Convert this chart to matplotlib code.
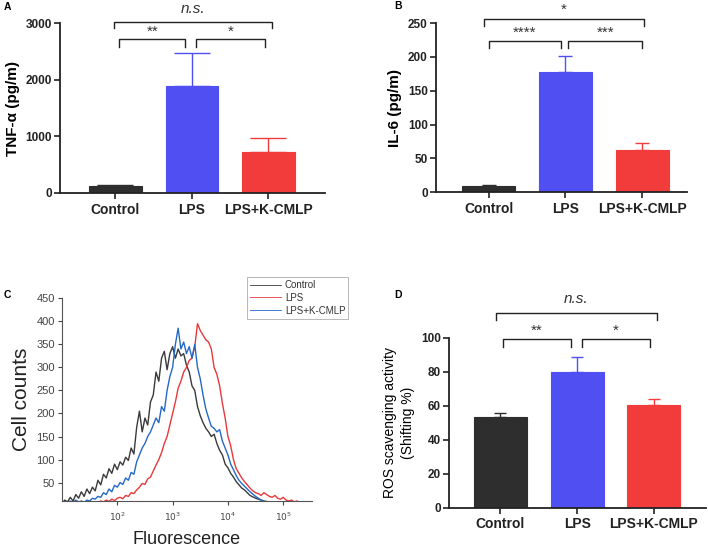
import numpy as np
import matplotlib
matplotlib.use("Agg")
import matplotlib.pyplot as plt

plt.rcParams['font.family'] = ['Liberation Sans', 'DejaVu Sans']

# ---------------- data ----------------
groups = ["Control", "LPS", "LPS+K-CMLP"]
bar_colors = ["#2e2e2e", "#5050f2", "#f23c3c"]

tnf_mean = [125, 1890, 715]
tnf_err = [15, 580, 250]

il6_mean = [9.5, 178, 62]
il6_err = [1.0, 24, 11]

ros_mean = [53.5, 80, 60.2]
ros_err = [2.5, 8.8, 4.0]

# flow-cytometry histogram (log10 fluorescence bins, counts)
log_bins = np.round(np.arange(1.0, 5.401, 0.05), 2)
control_counts = [5, 12, 8, 18, 10, 24, 16, 30, 20, 36, 26, 40, 32, 55, 45, 68, 60, 80, 70, 90,
                  78, 95, 88, 105, 98, 125, 112, 170, 205, 160, 190, 175, 225, 240, 290, 270, 320, 335, 295, 330,
                  345, 320, 340, 325, 330, 305, 290, 260, 250, 215, 195, 180, 168, 160, 150, 155, 135, 120, 110, 90,
                  82, 70, 62, 52, 45, 38, 34, 28, 22, 19, 16, 14, 12, 10, 9, 8, 7, 6, 6, 5,
                  5, 5, 4, 4, 4, 4, 4, 4, 4]
lps_counts = [4, 6, 5, 7, 4, 8, 5, 6, 4, 7, 5, 8, 6, 6, 10, 8, 12, 9, 14, 11,
              16, 18, 15, 22, 20, 28, 26, 34, 40, 48, 46, 58, 62, 75, 88, 100, 115, 135, 150, 175,
              200, 225, 255, 270, 290, 300, 315, 320, 345, 395, 380, 370, 360, 355, 340, 300, 285, 260, 222, 190,
              150, 130, 100, 80, 70, 60, 52, 45, 38, 32, 28, 26, 22, 28, 24, 20, 18, 22, 16, 14,
              18, 12, 10, 12, 8, 10, 7, 6, 5]
lpsk_counts = [4, 8, 5, 10, 6, 12, 8, 10, 7, 12, 10, 16, 14, 20, 18, 28, 24, 36, 30, 44,
               40, 50, 46, 60, 55, 72, 68, 95, 110, 125, 135, 150, 160, 175, 190, 180, 215, 205, 250, 280,
               300, 350, 385, 340, 355, 330, 345, 320, 350, 300, 275, 240, 210, 190, 172, 168, 160, 165, 140, 125,
               110, 90, 78, 65, 55, 48, 42, 36, 30, 25, 20, 16, 12, 9, 7, 5, 4, 4, 4, 4,
               4, 4, 4, 4, 4, 4, 4, 4, 4]
hist_labels = ["Control", "LPS", "LPS+K-CMLP"]
hist_colors = ["#3a3a3a", "#e8383a", "#2468c8"]

fig = plt.figure(figsize=(7.08, 5.47), dpi=100)
W, H = 708, 547


def ax_px(l, t, r, b):
    return fig.add_axes([l / W, 1 - b / H, (r - l) / W, (b - t) / H])


def style_bar_axes(ax):
    for s in ["top", "right"]:
        ax.spines[s].set_visible(False)
    for s in ["left", "bottom"]:
        ax.spines[s].set_linewidth(1.3)
        ax.spines[s].set_color("#222222")
    ax.tick_params(axis="y", length=4, width=1.2, labelsize=8.5, pad=2, colors="#222222")
    ax.tick_params(axis="x", length=4, width=1.2, labelsize=10, pad=3, colors="#222222")
    for lab in ax.get_xticklabels() + ax.get_yticklabels():
        lab.set_fontweight("bold")


def bars(ax, means, errs, capsize):
    x = np.arange(len(groups))
    for i in range(len(groups)):
        ax.bar(x[i], means[i], width=0.69, color=bar_colors[i], edgecolor=bar_colors[i], lw=0.8, zorder=2)
        ax.errorbar(x[i], means[i], yerr=[[0], [errs[i]]], color=bar_colors[i], lw=1.0,
                    capsize=capsize, capthick=1.0, zorder=3)
    ax.set_xticks(x)
    ax.set_xticklabels(groups)


def bracket(ax, x0, x1, y, h, text, ty, fs=11, style="normal"):
    ax.plot([x0, x0, x1, x1], [y - h, y, y, y - h], color="#222222", lw=1.0, clip_on=False)
    ax.text((x0 + x1) / 2, ty, text, ha="center", va="center", fontsize=fs, color="#333333",
            style=style, clip_on=False)


# ---------------- A ----------------
axA = ax_px(60, 23, 325, 193)
bars(axA, tnf_mean, tnf_err, 13)
axA.set_xlim(-0.725, 2.74)
axA.set_ylim(0, 3000)
axA.set_yticks([0, 1000, 2000, 3000])
axA.set_ylabel("TNF-α (pg/m)", fontsize=11, fontweight="bold", labelpad=4)
style_bar_axes(axA)
bracket(axA, 0.05, 0.91, 2717, 137, "**", 2840)
bracket(axA, 1.05, 1.96, 2717, 137, "*", 2840)
bracket(axA, -0.02, 2.05, 3023, 117, "n.s.", 3240, fs=11, style="italic")
fig.text(4 / W, 1 - 7 / H, "A", fontsize=7.5, fontweight="bold", va="center")

# ---------------- B ----------------
axB = ax_px(436, 23, 687, 192.3)
bars(axB, il6_mean, il6_err, 5)
axB.set_xlim(-0.684, 2.586)
axB.set_ylim(0, 250)
axB.set_yticks([0, 50, 100, 150, 200, 250])
axB.set_ylabel("IL-6 (pg/m)", fontsize=11, fontweight="bold", labelpad=4)
style_bar_axes(axB)
bracket(axB, 0.0, 0.95, 224, 10.5, "****", 235)
bracket(axB, 1.04, 2.0, 224, 10.5, "***", 235)
bracket(axB, -0.06, 2.03, 256, 10.5, "*", 269)
fig.text(394 / W, 1 - 6 / H, "B", fontsize=7.5, fontweight="bold", va="center")

# ---------------- C ----------------
axC = ax_px(62, 298.3, 312, 501)
for counts, lab, col in zip([control_counts, lps_counts, lpsk_counts], hist_labels, hist_colors):
    axC.plot(10 ** log_bins, counts, color=col, lw=1.0, label=lab)
axC.set_xscale("log")
axC.set_xlim(10 ** 1.0, 10 ** 5.52)
axC.set_ylim(10, 450)
axC.set_yticks([50, 100, 150, 200, 250, 300, 350, 400, 450])
axC.set_xticks([1e2, 1e3, 1e4, 1e5])
axC.set_xticklabels([r"$10^{2}$", r"$10^{3}$", r"$10^{4}$", r"$10^{5}$"])
axC.xaxis.set_minor_locator(matplotlib.ticker.NullLocator())
for s in ["top", "right"]:
    axC.spines[s].set_visible(False)
for s in ["left", "bottom"]:
    axC.spines[s].set_linewidth(0.8)
    axC.spines[s].set_color("#555555")
axC.tick_params(axis="y", length=3, width=0.8, labelsize=8, pad=2, colors="#444444")
axC.tick_params(axis="x", length=3, width=0.8, labelsize=6.5, pad=4, colors="#444444")
for lab in axC.get_xticklabels():
    lab.set_family("serif")
axC.set_ylabel("Cell counts", fontsize=15, labelpad=4, color="#222222")
axC.set_xlabel("Fluorescence", fontsize=13, labelpad=6, color="#222222")
leg = axC.legend(loc="upper left", bbox_to_anchor=(247 / W, 1 - 277 / H), bbox_transform=fig.transFigure,
                 fontsize=7, frameon=True, fancybox=False, borderpad=0.3, handlelength=3.2,
                 handletextpad=0.4, labelspacing=0.3, borderaxespad=0)
leg.get_frame().set_edgecolor("#999999")
leg.get_frame().set_linewidth(0.6)
for line in leg.get_lines():
    line.set_linewidth(0.6)
for t in leg.get_texts():
    t.set_color("#333333")
fig.text(4 / W, 1 - 295 / H, "C", fontsize=7.5, fontweight="bold", va="center")

# ---------------- D ----------------
axD = ax_px(449, 337.7, 706, 507.7)
bars(axD, ros_mean, ros_err, 4)
axD.set_xlim(-0.671, 2.678)
axD.set_ylim(0, 100)
axD.set_yticks([0, 20, 40, 60, 80, 100])
axD.set_ylabel("ROS scavenging activity\n(Shifting %)", fontsize=10, labelpad=4, linespacing=1.4)
style_bar_axes(axD)
bracket(axD, 0.03, 0.92, 99.2, 4.5, "**", 104)
bracket(axD, 1.06, 1.95, 99.2, 4.5, "*", 104)
bracket(axD, -0.06, 2.04, 114.5, 4.1, "n.s.", 122.6, fs=11, style="italic")
fig.text(394 / W, 1 - 295 / H, "D", fontsize=7.5, fontweight="bold", va="center")

fig.savefig("out.png", dpi=100)
